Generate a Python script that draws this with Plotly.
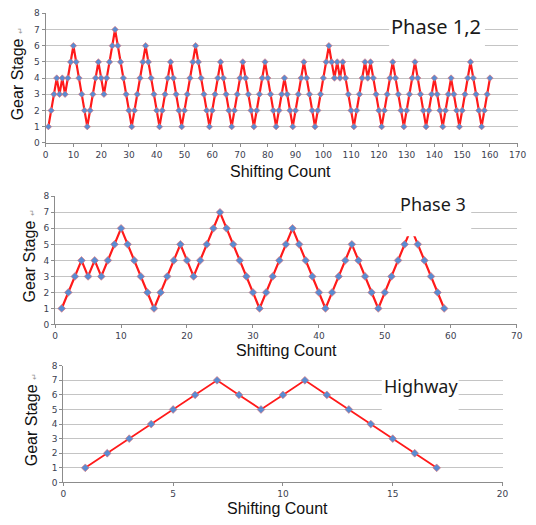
import plotly.graph_objects as go

# ---------------- data ----------------
phase12_count = list(range(1, 161))
phase12_gear = [
    1, 2, 3, 4, 3, 4, 3, 4, 5, 6,
    5, 4, 3, 2, 1, 2, 3, 4, 5, 4,
    3, 4, 5, 6, 7, 6, 5, 4, 3, 2,
    1, 2, 3, 4, 5, 6, 5, 4, 3, 2,
    1, 2, 3, 4, 5, 4, 3, 2, 1, 2,
    3, 4, 5, 6, 5, 4, 3, 2, 1, 2,
    3, 4, 5, 4, 3, 2, 1, 2, 3, 4,
    5, 4, 3, 2, 1, 2, 3, 4, 5, 4,
    3, 2, 1, 2, 3, 4, 3, 2, 1, 2,
    3, 4, 5, 4, 3, 2, 1, 2, 3, 4,
    5, 6, 5, 4, 5, 4, 5, 4, 3, 2,
    1, 2, 3, 4, 5, 4, 5, 4, 3, 2,
    1, 2, 3, 4, 5, 4, 3, 2, 1, 2,
    3, 4, 5, 4, 3, 2, 1, 2, 3, 4,
    3, 2, 1, 2, 3, 4, 3, 2, 1, 2,
    3, 4, 5, 4, 3, 2, 1, 2, 3, 4,
]

phase3_count = list(range(1, 60))
phase3_gear = [
    1, 2, 3, 4, 3, 4, 3, 4, 5, 6,
    5, 4, 3, 2, 1, 2, 3, 4, 5, 4,
    3, 4, 5, 6, 7, 6, 5, 4, 3, 2,
    1, 2, 3, 4, 5, 6, 5, 4, 3, 2,
    1, 2, 3, 4, 5, 4, 3, 2, 1, 2,
    3, 4, 5, 6, 5, 4, 3, 2, 1,
]

highway_count = list(range(1, 18))
highway_gear = [1, 2, 3, 4, 5, 6, 7, 6, 5, 6, 7, 6, 5, 4, 3, 2, 1]

gear_ticks = list(range(0, 9))
x1_ticks = list(range(0, 171, 10))
x2_ticks = list(range(0, 71, 10))
x3_ticks = list(range(0, 21, 5))

panel_labels = ["Phase 1,2", "Phase 3", "Highway"]
x_title = "Shifting Count"
y_title = "Gear Stage"

# ---------------- styling ----------------
W, H = 536, 525
LINE_RED = "#ff1a1a"
MARK_BLUE = "#5b8bd0"
GRID = "#c4c4c4"
AXIS = "#8c8c8c"
TICKFONT = dict(family="DejaVu Sans", size=9, color="#3c4150")
TITLEFONT = "Liberation Sans"


def px_x(p):
    return p / W


def px_y(p):
    return 1 - p / H


fig = go.Figure()

series = [
    (phase12_count, phase12_gear, "x", "y", 2.2, 5),
    (phase3_count, phase3_gear, "x2", "y2", 2.2, 6),
    (highway_count, highway_gear, "x3", "y3", 1.8, 6),
]
for xs, ys, xa, ya, lw, ms in series:
    fig.add_trace(go.Scatter(
        x=xs, y=ys, xaxis=xa, yaxis=ya, mode="lines+markers",
        line=dict(color=LINE_RED, width=lw),
        marker=dict(symbol="diamond", size=ms, color=MARK_BLUE,
                    line=dict(width=0.6, color="#e87070")),
        showlegend=False, hoverinfo="skip",
    ))


def xaxis(domain, rng, ticks, anchor):
    return dict(domain=domain, range=rng, tickvals=ticks, anchor=anchor,
                showgrid=False, zeroline=False, showline=True,
                linecolor=AXIS, linewidth=1, ticks="outside", ticklen=3,
                tickcolor=AXIS, tickfont=TICKFONT, fixedrange=True)


def yaxis(domain, anchor):
    return dict(domain=domain, range=[0, 8], tickvals=gear_ticks, anchor=anchor,
                showgrid=True, gridcolor=GRID, gridwidth=1, zeroline=False,
                showline=True, linecolor=AXIS, linewidth=1, ticks="outside",
                ticklen=3, tickcolor=AXIS, tickfont=TICKFONT, fixedrange=True)


fig.update_layout(
    width=W, height=H,
    margin=dict(l=0, r=0, t=0, b=0),
    paper_bgcolor="white", plot_bgcolor="white",
    xaxis=xaxis([px_x(43.6), px_x(526.5)], [0, 170], x1_ticks, "y"),
    yaxis=yaxis([px_y(140.5), px_y(8.5)], "x"),
    xaxis2=xaxis([px_x(53.3), px_x(525.5)], [0, 70], x2_ticks, "y2"),
    yaxis2=yaxis([px_y(325.7), px_y(195)], "x2"),
    xaxis3=xaxis([px_x(61.7), px_x(511)], [0, 20], x3_ticks, "y3"),
    yaxis3=yaxis([px_y(486.7), px_y(367.7)], "x3"),
)

# white label boxes that hide the grid / line behind the panel labels
boxes = [
    ("x", "y", 123.7, 158.2, 5.5),
    ("x2", "y2", 52.5, 63.1, 5.5),
    ("x3", "y3", 14.5, 18.0, 4.5),
]
for xr, yr, x0, x1, y0 in boxes:
    fig.add_shape(type="rect", xref=xr, yref=yr, x0=x0, x1=x1, y0=y0, y1=8.8,
                  fillcolor="white", line=dict(width=0), layer="above")

# panel labels
label_pos = [(443, 22, 20), (440, 203, 18), (428, 388, 18)]
for text, (lx, ly, fs) in zip(panel_labels, label_pos):
    fig.add_annotation(text=text, x=px_x(lx), y=px_y(ly), xref="paper", yref="paper",
                       showarrow=False, xanchor="center", yanchor="middle",
                       font=dict(family="Noto Sans", size=fs, color="#1a1a1a"))

# x titles
for (tx, ty) in [(284, 170), (290, 352), (281, 513)]:
    fig.add_annotation(text=x_title, x=px_x(tx), y=px_y(ty), xref="paper", yref="paper",
                       showarrow=False, xanchor="center", yanchor="middle",
                       font=dict(family=TITLEFONT, size=16, color="#111111"))

# y titles (with the small return mark of the original)
ytxt = y_title + " <span style='font-size:8px;color:#999999'>↵</span>"
for (tx, ty) in [(15, 70), (27, 256), (30, 423)]:
    fig.add_annotation(text=ytxt, x=px_x(tx), y=px_y(ty), xref="paper", yref="paper",
                       showarrow=False, xanchor="center", yanchor="middle", textangle=-90,
                       font=dict(family=TITLEFONT, size=16, color="#111111"))

fig.write_html(
    "out.html",
    config={"displayModeBar": False},
    post_script="document.body.style.margin='0';document.body.style.padding='0';",
)
